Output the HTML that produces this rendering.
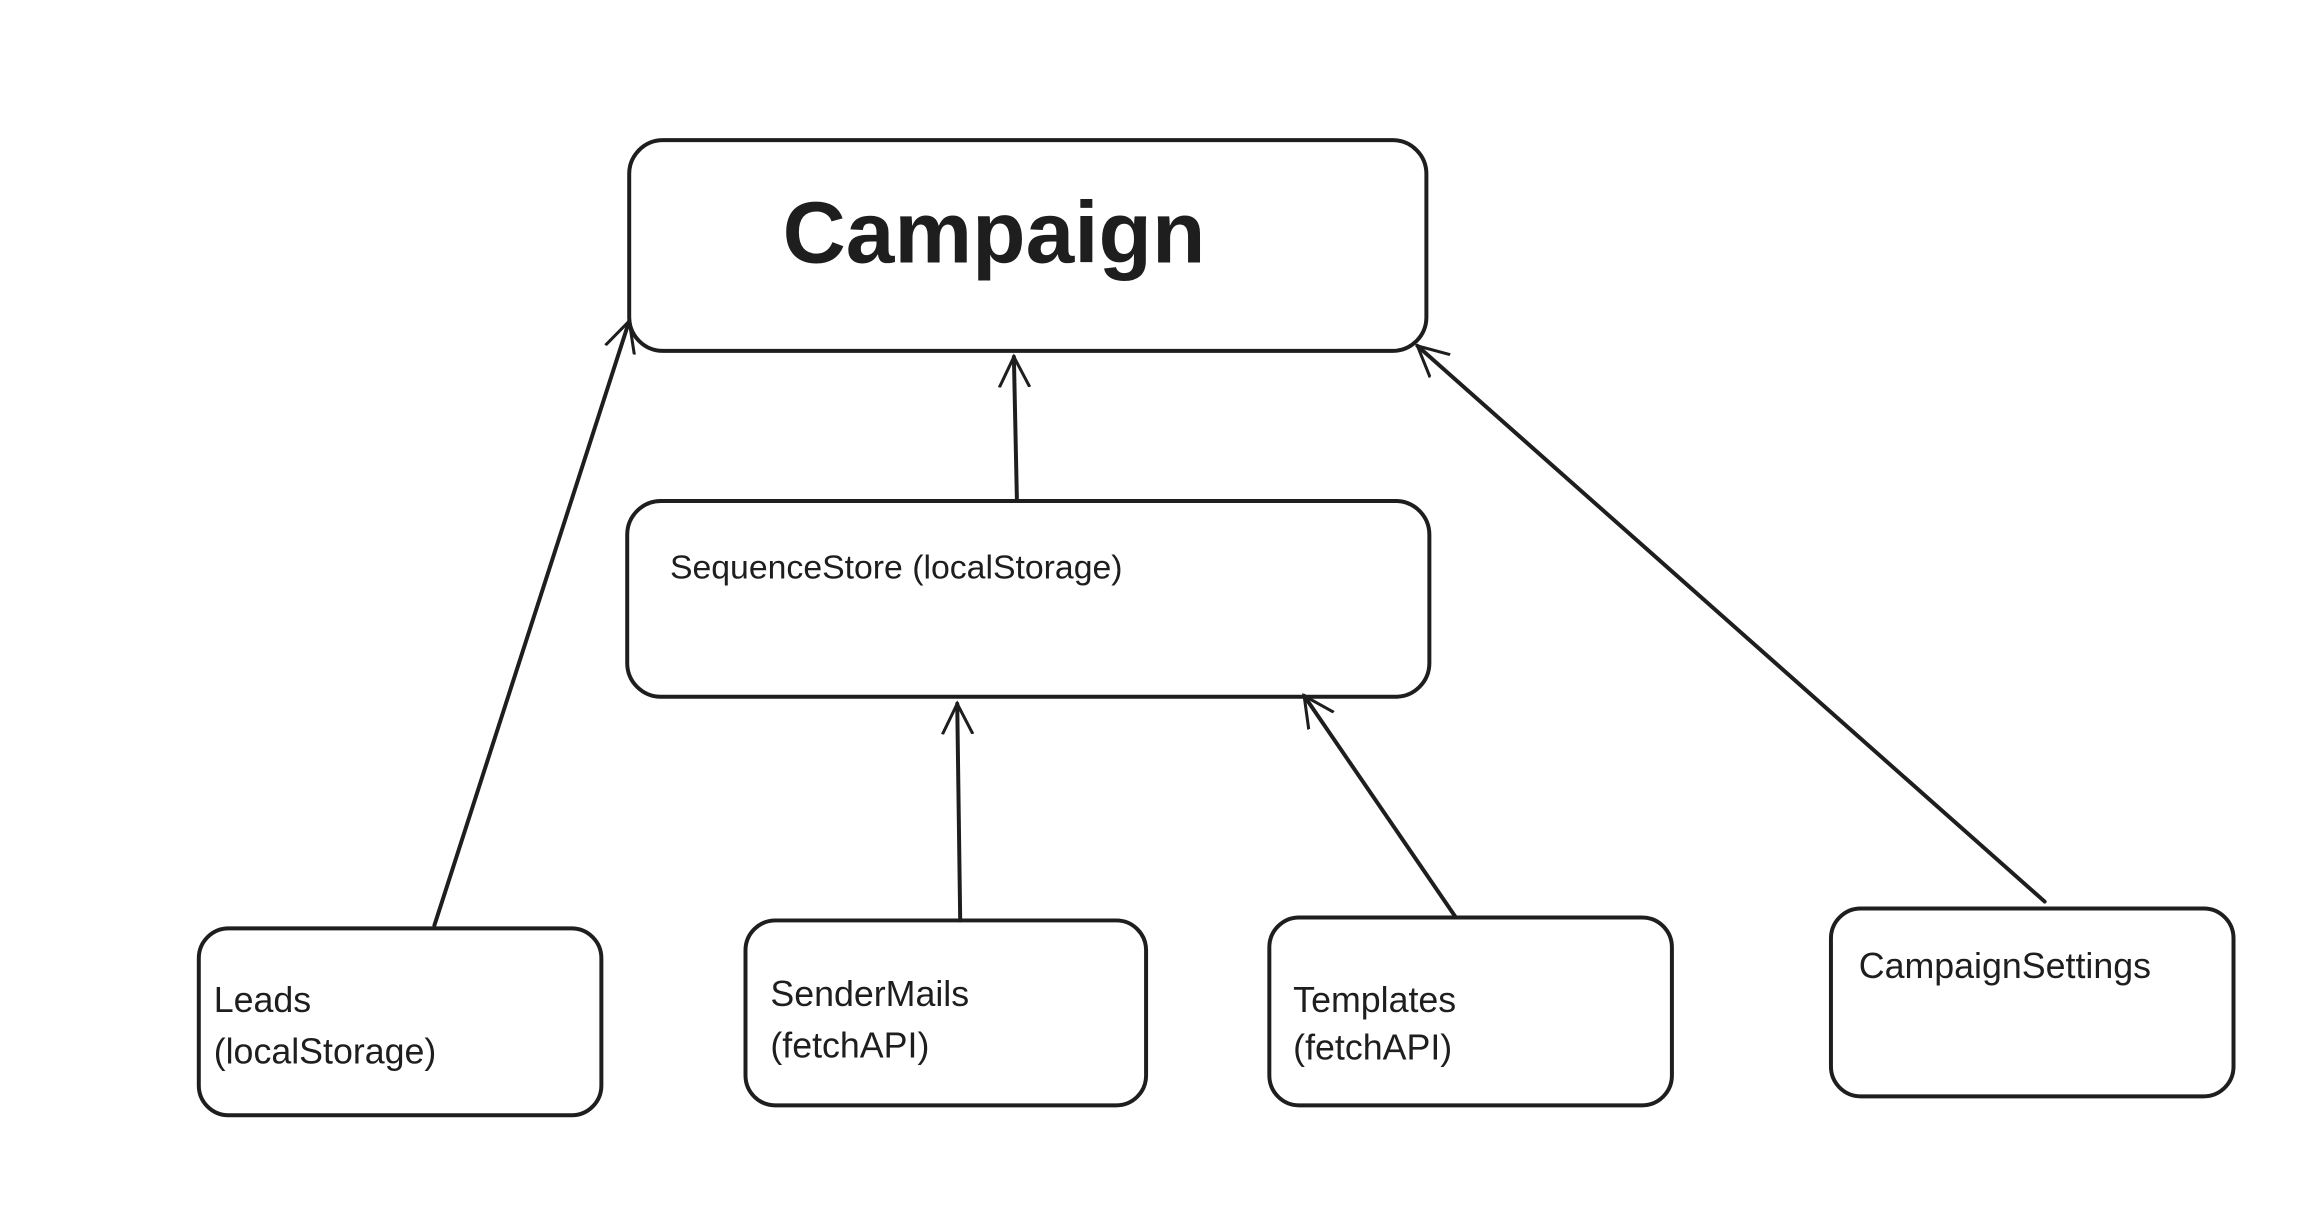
<!DOCTYPE html>
<html><head><meta charset="utf-8"><style>
html,body{margin:0;padding:0;background:#fff;}
svg{display:block;}
text{font-family:"Liberation Sans",sans-serif;fill:#1e1e1e;}
</style></head><body>
<svg width="2312" height="1222" viewBox="0 0 2312 1222" xmlns="http://www.w3.org/2000/svg">
<defs>
<marker id="a" viewBox="0 0 20 20" refX="18" refY="10" markerWidth="34" markerHeight="34" markerUnits="userSpaceOnUse" orient="auto">
<path d="M0,1 L18,10 L0,19" fill="none" stroke="#1e1e1e" stroke-width="1.8"/>
</marker>
</defs>
<g transform="scale(0.994)">
<g fill="none" stroke="#1e1e1e" stroke-width="4" stroke-linecap="round">
<rect x="633" y="141" width="802" height="212" rx="34"/>
<rect x="631" y="504" width="807" height="197" rx="34"/>
<rect x="200" y="934" width="405" height="188" rx="30"/>
<rect x="750" y="926" width="403" height="186" rx="30"/>
<rect x="1277" y="923" width="405" height="189" rx="30"/>
<rect x="1842" y="914" width="405" height="189" rx="30"/>
<line x1="437" y1="931" x2="633" y2="323" marker-end="url(#a)"/>
<line x1="1023" y1="501" x2="1020" y2="359" marker-end="url(#a)"/>
<line x1="966" y1="926" x2="963" y2="708" marker-end="url(#a)"/>
<line x1="1464" y1="922" x2="1312" y2="700" marker-end="url(#a)"/>
<line x1="2057" y1="907" x2="1426" y2="348" marker-end="url(#a)"/>
</g>
<text x="1000" y="264" font-size="88" font-weight="bold" text-anchor="middle">Campaign</text>
<text x="674" y="582" font-size="34">SequenceStore (localStorage)</text>
<text x="215" y="1018" font-size="36">Leads</text>
<text x="215" y="1070" font-size="36">(localStorage)</text>
<text x="775" y="1012" font-size="36">SenderMails</text>
<text x="775" y="1064" font-size="36">(fetchAPI)</text>
<text x="1301" y="1018" font-size="36">Templates</text>
<text x="1301" y="1066" font-size="36">(fetchAPI)</text>
<text x="1870" y="984" font-size="36">CampaignSettings</text>
</g>
</svg>
</body></html>
